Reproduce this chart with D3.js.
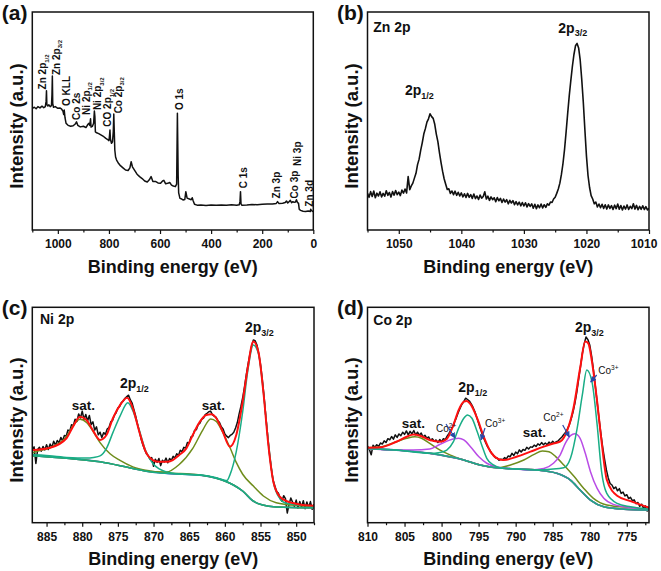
<!DOCTYPE html>
<html><head><meta charset="utf-8">
<script src="https://cdn.jsdelivr.net/npm/d3@7/dist/d3.min.js"></script>
<style>body{margin:0;background:#fff}</style>
</head><body>
<svg id="fig" width="661" height="571"></svg>
<script>
// ================= DATA =================
// (a) survey spectrum [binding energy eV, intensity a.u.]
const surveyData = [[1100,55.8],[1092,56.3],[1085,55.6],[1078,56.6],[1070,56.0],[1062,56.8],[1055,56.1],[1049,56.6],[1046,59],[1044.5,63.9],[1043,57.5],[1039,56.9],[1035,57.4],[1030,56.6],[1025,57.0],[1023,62],[1021.5,70.6],[1020,58],[1017,56.3],[1010,56.6],[1000,55.8],[992,56.0],[985,55.4],[980,54.5],[977,53.0],[975,55.0],[972,51.5],[968,49.0],[960,48.0],[950,47.6],[940,47.8],[932,48.6],[927,49.6],[922,48.0],[912,47.3],[900,47.6],[890,47.0],[882,48.5],[878,49.0],[875,48.0],[872,51.0],[870,47.2],[865,47.5],[860,49],[857,54.6],[855,52],[853,45],[848,44.6],[840,44.2],[830,43.5],[820,42.8],[812,42.0],[805,41.5],[800,41.0],[798,43],[796,45.9],[794,41.5],[790,39.8],[786,40.5],[783,45],[781,53.2],[779,45],[777,36.7],[774,33.5],[770,32.1],[762,30.5],[755,29.5],[745,28.5],[735,27.5],[725,27.3],[718,28.5],[713,31.3],[708,29.0],[700,27.5],[690,25.6],[680,24.5],[670,23.6],[660,22.5],[650,22.0],[642,23.0],[635,24.5],[628,22.2],[618,22.3],[608,21.6],[598,21.4],[590,22.5],[585,22.8],[578,21.2],[570,21.4],[562,21.8],[555,20.6],[548,20.2],[540,19.9],[535,21],[532,53.5],[529,25],[527,17],[522,14.5],[515,14.2],[510,13.8],[503,14.0],[499,17.6],[494,14.6],[485,14.2],[478,13.9],[474,14.8],[470,13.3],[465,11.8],[455,11.4],[440,11.5],[420,11.2],[400,11.5],[380,11.3],[360,11.5],[340,11.3],[320,11.6],[300,11.4],[290,11.6],[287,13],[285,17.6],[283,12],[280,11.4],[260,11.5],[240,11.7],[220,11.6],[200,11.8],[180,11.9],[160,11.9],[145,12.2],[140,13.0],[135,12.2],[120,12.3],[110,12.6],[105,13.3],[100,12.4],[95,13.0],[90,13.6],[85,12.5],[80,13.0],[75,12.7],[70,12.8],[66,13.9],[62,12.6],[58,12.3],[55,9.5],[50,9.0],[40,8.6],[30,8.5],[20,8.7],[12,8.5],[10,9.5],[8,9.0],[4,8.7],[0,8.4]];
const surveyLabels = [
  {t:"Zn 2p", s:"1/2", e:1045.6, b:64.5},
  {t:"Zn 2p", s:"3/2", e:993.5, b:71.1},
  {t:"O KLL", s:"", e:952.4, b:56.9},
  {t:"Co 2s", s:"", e:913.7, b:50.5},
  {t:"Ni 2p", s:"1/2", e:874.9, b:52.8},
  {t:"Ni 2p", s:"3/2", e:829.9, b:55.0},
  {t:"CO 2p", s:"1/2", e:790.7, b:47.4},
  {t:"Co 2p", s:"3/2", e:748.9, b:53.5},
  {t:"O 1s", s:"", e:508.9, b:55.0},
  {t:"C 1s", s:"", e:260.7, b:19.1},
  {t:"Zn 3p", s:"", e:130.4, b:14.5},
  {t:"Co 3p", s:"", e:59.9, b:14.5},
  {t:"Ni 3p", s:"", e:50.1, b:29.4},
  {t:"Zn 3d", s:"", e:3.1, b:10.7}
];

// (b) Zn 2p
const zn2pData = [[1055,16.8],[1054.75,15.0],[1054.5,17.6],[1054.25,15.4],[1054,17.9],[1053.75,14.8],[1053.5,16.9],[1053.25,15.6],[1053,17.5],[1052.75,15.2],[1052.5,16.8],[1052.25,15.5],[1052,18.0],[1051.75,15.9],[1051.5,17.2],[1051.25,15.1],[1051,17.6],[1050.75,16.0],[1050.5,18.1],[1050.25,16.2],[1050,17.4],[1049.75,15.8],[1049.5,18.3],[1049.25,16.9],[1049,18.8],[1048.75,17.0],[1048.5,24.5],[1048.25,18.5],[1048,20.2],[1047.75,21.5],[1047.5,23.8],[1047.25,26.0],[1047,30.0],[1046.75,32.5],[1046.5,36.5],[1046.25,40.0],[1046,44.0],[1045.75,46.5],[1045.5,49.5],[1045.25,51.0],[1045,53.3],[1044.75,52.0],[1044.5,51.2],[1044.25,48.5],[1044,44.0],[1043.75,40.5],[1043.5,35.5],[1043.25,31.0],[1043,27.0],[1042.75,23.5],[1042.5,21.0],[1042.25,18.6],[1042,18.9],[1041.75,16.8],[1041.5,17.9],[1041.25,16.2],[1041,17.8],[1040.75,15.9],[1040.5,17.3],[1040.25,15.6],[1040,17.0],[1039.75,15.2],[1039.5,16.6],[1039.25,14.9],[1039,16.8],[1038.75,15.0],[1038.5,16.2],[1038.25,14.5],[1038,16.5],[1037.75,14.4],[1037.5,15.6],[1037.25,14.0],[1037,16.0],[1036.75,14.6],[1036.5,15.4],[1036.25,17.5],[1036,14.2],[1035.75,15.5],[1035.5,13.6],[1035.25,15.2],[1035,13.9],[1034.75,14.8],[1034.5,13.0],[1034.25,14.9],[1034,13.4],[1033.75,14.5],[1033.5,12.6],[1033.25,14.2],[1033,12.8],[1032.75,13.9],[1032.5,12.0],[1032.25,13.6],[1032,12.4],[1031.75,13.5],[1031.5,11.6],[1031.25,13.0],[1031,11.5],[1030.75,12.8],[1030.5,11.1],[1030.25,12.6],[1030,11.0],[1029.75,12.5],[1029.5,10.6],[1029.25,12.1],[1029,10.8],[1028.75,12.0],[1028.5,10.0],[1028.25,11.8],[1028,9.8],[1027.75,11.5],[1027.5,10.2],[1027.25,11.9],[1027,10.1],[1026.75,11.6],[1026.5,10.4],[1026.25,12.0],[1026,11.4],[1025.75,12.8],[1025.5,12.6],[1025.25,14.2],[1025,15.0],[1024.75,16.8],[1024.5,18.8],[1024.25,21.5],[1024,25.5],[1023.75,30.5],[1023.5,37.0],[1023.25,45.0],[1023,53.5],[1022.75,61.5],[1022.5,68.5],[1022.25,75.0],[1022,80.5],[1021.75,84.5],[1021.5,85.6],[1021.25,83.5],[1021,78.0],[1020.75,69.0],[1020.5,58.5],[1020.25,46.0],[1020,34.0],[1019.75,25.0],[1019.5,19.5],[1019.25,15.8],[1019,14.2],[1018.75,12.0],[1018.5,12.8],[1018.25,10.6],[1018,11.9],[1017.75,10.2],[1017.5,11.8],[1017.25,9.9],[1017,11.6],[1016.75,9.6],[1016.5,11.5],[1016.25,9.9],[1016,11.2],[1015.75,9.4],[1015.5,11.4],[1015.25,9.8],[1015,11.9],[1014.75,9.5],[1014.5,11.2],[1014.25,9.2],[1014,11.0],[1013.75,9.6],[1013.5,11.5],[1013.25,9.4],[1013,10.9],[1012.75,9.8],[1012.5,12.0],[1012.25,9.6],[1012,11.3],[1011.75,9.3],[1011.5,10.8],[1011.25,9.5],[1011,11.1],[1010.75,9.4],[1010.5,10.7],[1010.25,9.2],[1010,10.0]];

// (c) Ni 2p
const ni2pRaw = [[887,33.8],[886.75,35.2],[886.5,27.5],[886.25,34.0],[886,35.0],[885.75,33.2],[885.5,35.4],[885.25,33.8],[885,36.2],[884.75,34.0],[884.5,36.5],[884.25,35.0],[884,37.8],[883.75,36.0],[883.5,38.2],[883.25,37.0],[883,39.6],[882.75,38.0],[882.5,40.5],[882.25,40.2],[882,43.0],[881.75,42.5],[881.5,45.5],[881.25,45.0],[881,48.0],[880.75,47.0],[880.5,50.5],[880.25,48.6],[880,51.8],[879.75,48.0],[879.5,50.2],[879.25,47.2],[879,49.8],[878.75,45.5],[878.5,46.8],[878.25,43.0],[878,44.5],[877.75,40.8],[877.5,42.0],[877.25,39.5],[877,41.8],[876.75,41.0],[876.5,43.5],[876.25,44.2],[876,46.8],[875.75,47.5],[875.5,49.8],[875.25,51.0],[875,53.2],[874.75,54.0],[874.5,55.8],[874.25,56.5],[874,57.8],[873.75,58.5],[873.5,59.2],[873.25,57.0],[873,55.5],[872.75,52.5],[872.5,49.5],[872.25,45.8],[872,42.5],[871.75,39.0],[871.5,36.2],[871.25,34.0],[871,32.0],[870.75,31.2],[870.5,29.5],[870.25,30.2],[870,26.2],[869.75,29.5],[869.5,28.0],[869.25,29.8],[869,26.5],[868.75,29.0],[868.5,28.2],[868.25,30.0],[868,27.8],[867.75,29.8],[867.5,29.0],[867.25,30.8],[867,30.0],[866.75,32.0],[866.5,31.2],[866.25,33.6],[866,33.0],[865.75,35.0],[865.5,34.6],[865.25,37.2],[865,37.0],[864.75,39.8],[864.5,40.2],[864.25,42.8],[864,43.2],[863.75,45.5],[863.5,46.2],[863.25,48.0],[863,48.5],[862.75,50.2],[862.5,50.8],[862.25,51.5],[862,51.8],[861.75,50.2],[861.5,49.5],[861.25,49.0],[861,47.5],[860.75,46.5],[860.5,44.5],[860.25,43.5],[860,41.2],[859.75,40.2],[859.5,39.5],[859.25,40.5],[859,41.0],[858.75,42.0],[858.5,44.0],[858.25,46.5],[858,50.5],[857.75,54.0],[857.5,58.0],[857.25,63.0],[857,68.5],[856.75,73.5],[856.5,78.0],[856.25,82.0],[856,84.8],[855.75,84.5],[855.5,82.5],[855.25,78.5],[855,73.5],[854.75,66.5],[854.5,58.5],[854.25,49.0],[854,40.5],[853.75,32.0],[853.5,25.5],[853.25,20.0],[853,17.2],[852.75,14.5],[852.5,13.8],[852.25,11.2],[852,10.0],[851.75,12.5],[851.5,11.2],[851.25,4.5],[851,8.5],[850.75,11.5],[850.5,9.5],[850.25,7.5],[850,10.5],[849.75,6.8],[849.5,9.8],[849.25,7.2],[849,10.2],[848.75,6.5],[848.5,9.6],[848.25,7.0],[848,9.8],[847.75,6.2],[847.5,8.6]];
const ni2pEnvelope = [[887,33.7],[884.5,34.8],[882.2,39.2],[881.3,44.6],[880.3,49.2],[879.4,47.7],[878.4,42.3],[877.5,38.4],[876.6,40.7],[875.7,48.5],[874.7,54.6],[873.7,58.0],[872.9,53.1],[872.0,42.3],[871.1,33.0],[870.1,29.1],[869.2,28.3],[868.2,28.3],[867.3,29.1],[866.4,31.4],[865.4,34.5],[864.5,40.7],[863.5,46.9],[862.6,50.0],[861.9,50.3],[861.2,48.5],[860.3,42.3],[859.3,35.3],[858.4,40.7],[857.5,56.2],[856.8,71.7],[856.0,84.1],[855.3,79.4],[854.6,60.8],[853.9,36.1],[853.2,19.0],[852.3,12.1],[851.4,10.1],[849.5,8.5],[847.5,7.9]];
const ni2pBackground = [[887,31.1],[882.2,29.9],[877.5,28.3],[872.9,25.2],[870.5,23.7],[868.2,22.9],[863.5,22.1],[861.2,20.6],[858.8,17.5],[857.5,14.7],[856.1,10.2],[854.7,8.2],[852.8,7.3],[847.5,6.9]];
const ni2p12 = [[886.9,31.6],[882.2,30.3],[879.4,30.0],[878.4,30.3],[877.5,31.0],[876.6,34.5],[875.7,41.8],[874.7,49.5],[873.6,55.7],[872.9,52.0],[872.0,43.0],[871.1,33.4],[870.1,27.5],[869.2,25.0],[868.2,23.6],[866.0,22.6]];
const ni2p32 = [[861.2,20.9],[860.3,20.0],[859.7,19.6],[859.3,22.1],[858.4,33.0],[857.5,51.5],[856.8,70.1],[856.0,82.5],[855.3,78.6],[854.6,60.8],[853.9,37.6],[853.2,19.0],[852.3,11.3],[851.4,9.0],[849.5,8.2],[847.6,7.7]];
const ni2pSat1 = [[886.9,32.5],[884.5,34.8],[882.2,40.0],[881.3,45.0],[880.3,48.0],[879.4,46.5],[878.4,42.0],[877.5,37.2],[876.1,32.0],[874.7,28.9],[872.9,25.9],[870.5,24.0],[868.2,23.2]];
const ni2pSat2 = [[868.2,23.5],[866.4,27.0],[864.5,34.5],[863.1,43.0],[862.0,48.2],[861.2,47.0],[860.3,42.0],[859.3,35.0],[858.4,28.0],[857.5,22.5],[856.0,17.0],[854.6,12.4],[852.8,9.3],[849.5,7.9],[847.6,7.5]];

// (d) Co 2p
const co2pRaw = [[810,35.5],[809.75,34.0],[809.5,31.5],[809.25,36.0],[809,35.0],[808.75,36.2],[808.5,35.4],[808.25,37.0],[808,36.5],[807.75,38.0],[807.5,37.2],[807.25,39.0],[807,38.5],[806.75,40.0],[806.5,38.8],[806.25,40.8],[806,39.6],[805.75,41.2],[805.5,40.4],[805.25,42.0],[805,41.0],[804.75,42.6],[804.5,40.8],[804.25,42.4],[804,41.2],[803.75,42.8],[803.5,40.8],[803.25,42.0],[803,40.6],[802.75,41.6],[802.5,39.8],[802.25,40.6],[802,39.2],[801.75,39.8],[801.5,38.2],[801.25,39.0],[801,37.8],[800.75,38.4],[800.5,37.2],[800.25,38.6],[800,37.6],[799.75,39.0],[799.5,38.6],[799.25,40.2],[799,41.5],[798.75,43.0],[798.5,44.5],[798.25,46.8],[798,48.8],[797.75,51.2],[797.5,53.2],[797.25,55.0],[797,56.2],[796.75,57.8],[796.5,57.2],[796.25,56.5],[796,55.2],[795.75,53.5],[795.5,51.5],[795.25,48.8],[795,46.2],[794.75,43.5],[794.5,41.0],[794.25,38.8],[794,36.8],[793.75,35.0],[793.5,33.8],[793.25,32.2],[793,31.4],[792.75,30.2],[792.5,30.0],[792.25,29.0],[792,29.5],[791.75,29.2],[791.5,30.2],[791.25,29.6],[791,31.0],[790.75,30.6],[790.5,32.2],[790.25,31.2],[790,32.8],[789.75,32.0],[789.5,33.8],[789.25,32.8],[789,34.0],[788.75,33.6],[788.5,35.0],[788.25,34.2],[788,35.2],[787.75,35.0],[787.5,36.0],[787.25,35.4],[787,36.6],[786.75,36.0],[786.5,37.2],[786.25,36.2],[786,37.0],[785.75,36.2],[785.5,37.4],[785.25,36.6],[785,37.8],[784.75,37.0],[784.5,37.6],[784.25,38.0],[784,39.0],[783.75,39.8],[783.5,41.0],[783.25,42.0],[783,43.6],[782.75,45.5],[782.5,48.2],[782.25,51.5],[782,55.5],[781.75,60.5],[781.5,66.5],[781.25,72.5],[781,78.5],[780.75,83.0],[780.5,86.2],[780.25,85.0],[780,82.5],[779.75,77.5],[779.5,71.0],[779.25,63.5],[779,56.0],[778.75,48.5],[778.5,41.5],[778.25,35.0],[778,29.5],[777.75,24.5],[777.5,20.8],[777.25,18.2],[777,17.5],[776.75,15.8],[776.5,16.6],[776.25,14.8],[776,15.8],[775.75,13.6],[775.5,14.2],[775.25,12.4],[775,13.0],[774.75,11.2],[774.5,11.8],[774.25,10.2],[774,10.6],[773.75,8.8],[773.5,9.4],[773.25,7.6],[773,8.6],[772.75,6.8],[772.5,7.8],[772.25,5.4],[772,7.2]];
const co2pEnvelope = [[810,34.8],[808.3,35.0],[806.1,37.6],[804.7,39.9],[803.8,41.0],[802.9,40.4],[801.6,38.4],[800.2,37.6],[799.3,38.9],[798.4,45.4],[797.7,52.3],[797.0,56.2],[796.6,56.5],[796.1,55.0],[795.2,48.5],[794.3,39.9],[793.4,33.0],[792.5,29.9],[791.6,29.1],[789.8,30.7],[788.0,33.0],[786.2,35.3],[784.9,36.8],[784.0,37.6],[783.1,42.3],[782.2,53.1],[781.3,71.7],[780.6,84.1],[780.2,83.3],[779.7,74.8],[779.0,56.2],[778.4,37.6],[777.7,20.0],[776.3,12.5],[774.5,10.0],[772,7.0]];
const co2pBackground = [[810,34.5],[806.1,33.7],[801.6,32.2],[797.0,29.1],[794.8,26.8],[792.5,25.5],[789.8,24.9],[787.1,24.5],[784.4,22.9],[782.6,19.8],[781.3,15.2],[779.9,10.5],[778.1,7.4],[775.4,6.3],[772,5.9]];
const co3p12 = [[800.2,32.6],[799.3,33.7],[798.4,37.6],[797.7,43.8],[797.0,48.5],[796.5,50.0],[795.9,48.5],[795.2,42.3],[794.5,35.3],[793.9,29.9],[793.0,26.8],[792.1,25.5]];
const co3p32 = [[787.1,24.5],[785.3,24.8],[783.5,25.5],[782.6,29.9],[781.7,43.8],[781.0,59.3],[780.4,70.9],[779.7,65.5],[779.0,45.4],[778.4,23.7],[777.7,13.6],[776.3,9.0],[774.5,7.4],[772.0,6.3]];
const co2p12 = [[803.8,33.7],[801.6,34.2],[800.2,36.4],[799.1,38.1],[797.7,39.2],[797.0,38.4],[796.1,35.3],[795.0,30.7],[793.9,27.6],[792.5,25.9]];
const co2p32 = [[788.0,24.5],[786.2,25.2],[784.9,27.6],[784.0,31.4],[783.3,36.8],[782.6,40.4],[782.0,41.3],[781.3,39.2],[780.6,32.2],[779.9,23.7],[779.0,15.9],[778.1,11.3],[776.8,8.5],[774.5,7.0],[772.0,6.2]];
const coSat1 = [[810,34.8],[808.3,35.1],[806.1,37.6],[804.7,39.2],[803.6,39.9],[802.7,39.2],[801.6,36.8],[800.2,33.7],[798.8,31.4],[797.0,29.1],[794.8,26.8]];
const coSat2 = [[792.5,25.5],[790.7,26.8],[788.9,29.1],[787.5,31.7],[786.4,33.3],[785.5,32.9],[784.6,30.7],[783.5,26.8],[782.1,21.4],[780.8,15.9],[779.5,11.3],[777.7,8.2],[774.5,7.0],[772.0,6.3]];

// tick values
const ticksA = [1000,800,600,400,200,0], minorA = [1100,900,700,500,300,100];
const ticksB = [1050,1040,1030,1020,1010], minorB = [1055,1045,1035,1025,1015];
const ticksC = [885,880,875,870,865,860,855,850], minorC = [882.5,877.5,872.5,867.5,862.5,857.5,852.5,847.5];
const ticksD = [810,805,800,795,790,785,780,775], minorD = [807.5,802.5,797.5,792.5,787.5,782.5,777.5,772.5];

// ================= DRAW =================
const FONT = "Arial, 'Liberation Sans', Helvetica, sans-serif";
const C = {black:"#111", red:"#ff1010", green:"#19ad86", olive:"#6f8d1c", violet:"#b94ce6", blue:"#4a62c8", arrow:"#2848a8"};
const svg = d3.select("#fig").attr("font-family", FONT);

function withBg(bg, peak){
  const hi = d3.max(peak, d=>d[0]), lo = d3.min(peak, d=>d[0]);
  return bg.filter(d => d[0] > hi || d[0] < lo).concat(peak).sort((a,b)=>b[0]-a[0]);
}

function panel(cfg){
  const g = svg.append("g");
  const x = d3.scaleLinear().domain(cfg.dom).range([cfg.x0, cfg.x1]);
  const y = d3.scaleLinear().domain([0,100]).range([cfg.y1, cfg.y0]);
  const cid = "clip"+cfg.id;
  svg.append("clipPath").attr("id",cid).append("rect")
    .attr("x",cfg.x0).attr("y",cfg.y0).attr("width",cfg.x1-cfg.x0).attr("height",cfg.y1-cfg.y0);
  const plot = g.append("g").attr("clip-path",`url(#${cid})`);
  g.append("g").attr("transform",`translate(0,${cfg.y1})`)
    .call(d3.axisBottom(x).tickValues(cfg.minor).tickSize(2.5).tickFormat(""))
    .call(a=>a.select(".domain").remove())
    .call(a=>a.selectAll("line").attr("stroke","#111").attr("stroke-width",1.2));
  g.append("g").attr("transform",`translate(0,${cfg.y1})`)
    .call(d3.axisBottom(x).tickValues(cfg.major).tickSize(4).tickPadding(5.5).tickFormat(d3.format("d")))
    .call(a=>a.select(".domain").remove())
    .call(a=>a.selectAll("line").attr("stroke","#111").attr("stroke-width",1.2))
    .call(a=>a.selectAll("text").attr("font-family",FONT).attr("font-weight","bold").attr("font-size",12).attr("fill","#111")
      .attr("dx", d => (cfg.lastShift && d === cfg.major[cfg.major.length-1]) ? cfg.lastShift : 0));
  g.append("rect").attr("x",cfg.x0).attr("y",cfg.y0).attr("width",cfg.x1-cfg.x0).attr("height",cfg.y1-cfg.y0)
    .attr("fill","none").attr("stroke","#111").attr("stroke-width",1.5);
  g.append("text").attr("x",(cfg.x0+cfg.x1)/2).attr("y",cfg.y1+42.5).attr("text-anchor","middle")
    .attr("font-weight","bold").attr("font-size",18).attr("fill","#111").text("Binding energy (eV)");
  g.append("text").attr("transform",`translate(${cfg.x0-9.5},${(cfg.y0+cfg.y1)/2+5}) rotate(-90)`)
    .attr("text-anchor","middle").attr("font-weight","bold").attr("font-size",18.5).attr("fill","#111").text("Intensity (a.u.)");
  g.append("text").attr("x",cfg.x0-30.5).attr("y",cfg.y0+7.5).attr("font-weight","bold").attr("font-size",21)
    .attr("fill","#111").text(`(${cfg.id})`);
  return {g, plot, x, y};
}

function line(p, data, color, w, curve){
  p.plot.append("path").datum(data).attr("fill","none").attr("stroke",color).attr("stroke-width",w)
    .attr("stroke-linejoin","round")
    .attr("d", d3.line().x(d=>p.x(d[0])).y(d=>p.y(d[1])).curve(curve||d3.curveLinear));
}
function label(g, x, y, main, sub, size, subSize, opts){
  const t = g.append("text").attr("x",x).attr("y",y).attr("font-weight",(opts&&opts.normal)?"normal":"bold")
    .attr("font-size",size).attr("fill","#111").text(main);
  if(sub){
    const sup = opts && opts.sup;
    t.append("tspan").attr("font-size",subSize).attr("dy", sup ? -size*0.42 : size*0.28).text(sub);
  }
  return t;
}

// ---- (a) ----
const pa = panel({id:"a", x0:32.3, x1:313.3, y0:12, y1:230, dom:[1100,0], major:ticksA, minor:minorA});
line(pa, surveyData, C.black, 1.5);
surveyLabels.forEach(l=>{
  const px = pa.x(l.e), py = pa.y(l.b);
  const t = pa.g.append("text").attr("transform",`translate(${px},${py}) rotate(-90)`)
    .attr("font-weight","bold").attr("font-size",10).attr("fill","#111").text(l.t);
  if(l.s) t.append("tspan").attr("font-size",6).attr("dy",2.5).text(l.s);
});

// ---- (b) ----
const pb = panel({id:"b", x0:367.5, x1:649, y0:12, y1:230, dom:[1055,1010], major:ticksB, minor:minorB, lastShift:-5.5});
line(pb, zn2pData, C.black, 1.6);
label(pb.g, 373.3, 31.7, "Zn 2p", "", 14);
label(pb.g, 405, 95, "2p", "1/2", 14, 9);
label(pb.g, 558.3, 32.5, "2p", "3/2", 14, 9);

// ---- (c) ----
const pc = panel({id:"c", x0:32.3, x1:314, y0:307.3, y1:522.7, dom:[887,847.5], major:ticksC, minor:minorC});
const sm = d3.curveMonotoneX;
line(pc, ni2pRaw, C.black, 1.5);
line(pc, ni2pBackground, C.blue, 1.6, sm);
line(pc, withBg(ni2pBackground, ni2pSat1), C.olive, 1.5, sm);
line(pc, withBg(ni2pBackground, ni2pSat2), C.olive, 1.5, sm);
line(pc, withBg(ni2pBackground, ni2p12), C.green, 1.5, sm);
line(pc, withBg(ni2pBackground, ni2p32), C.green, 1.5, sm);
line(pc, ni2pEnvelope, C.red, 2, sm);
label(pc.g, 40, 324.3, "Ni 2p", "", 14);
label(pc.g, 71.7, 410, "sat.", "", 13.5);
label(pc.g, 120, 387.7, "2p", "1/2", 14, 9);
label(pc.g, 201.7, 410, "sat.", "", 13.5);
label(pc.g, 245, 331.7, "2p", "3/2", 14, 9);

// ---- (d) ----
const pd = panel({id:"d", x0:367.5, x1:649, y0:307.3, y1:522.7, dom:[810,772], major:ticksD, minor:minorD});
line(pd, co2pRaw, C.black, 1.5);
line(pd, co2pBackground, C.blue, 1.6, sm);
line(pd, withBg(co2pBackground, coSat1), C.olive, 1.5, sm);
line(pd, withBg(co2pBackground, coSat2), C.olive, 1.5, sm);
line(pd, withBg(co2pBackground, co2p12), C.violet, 1.5, sm);
line(pd, withBg(co2pBackground, co2p32), C.violet, 1.5, sm);
line(pd, withBg(co2pBackground, co3p12), C.green, 1.5, sm);
line(pd, withBg(co2pBackground, co3p32), C.green, 1.5, sm);
line(pd, co2pEnvelope, C.red, 2, sm);
label(pd.g, 373.3, 325, "Co 2p", "", 14);
label(pd.g, 401.7, 428, "sat.", "", 13.5);
label(pd.g, 458.3, 391.7, "2p", "1/2", 14, 9);
label(pd.g, 522.7, 437, "sat.", "", 13.5);
label(pd.g, 575, 331.7, "2p", "3/2", 14, 9);
label(pd.g, 436, 432, "Co", "2+", 10, 6.5, {sup:true, normal:true});
label(pd.g, 485, 426.7, "Co", "3+", 10, 6.5, {sup:true, normal:true});
label(pd.g, 543.3, 421, "Co", "2+", 10, 6.5, {sup:true, normal:true});
label(pd.g, 598.3, 374.3, "Co", "3+", 10, 6.5, {sup:true, normal:true});
svg.append("defs").append("marker").attr("id","ah").attr("viewBox","0 0 10 10").attr("refX",9).attr("refY",5)
  .attr("markerWidth",5).attr("markerHeight",5).attr("orient","auto")
  .append("path").attr("d","M0,0L10,5L0,10z").attr("fill",C.arrow);
[[446,424,455,438],[485,428,481,440],[562.7,425,569.3,437],[596.7,375,590.7,382]].forEach(a=>{
  pd.g.append("line").attr("x1",a[0]).attr("y1",a[1]).attr("x2",a[2]).attr("y2",a[3])
    .attr("stroke",C.arrow).attr("stroke-width",1.2).attr("marker-end","url(#ah)");
});
</script>
</body></html>
